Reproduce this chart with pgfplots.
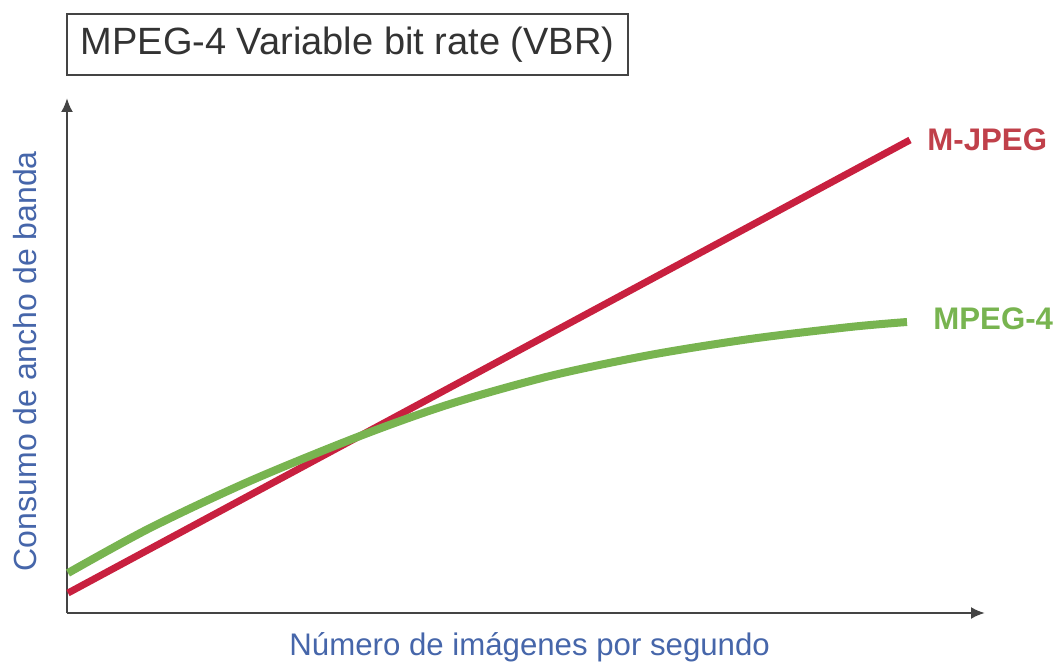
\documentclass[border=0pt]{standalone}
\usepackage{pgfplots}
\pgfplotsset{compat=1.18}
\usepackage{fontspec}
\setmainfont{Liberation Sans}
\usetikzlibrary{arrows.meta}
\definecolor{mjred}{HTML}{C8203F}
\definecolor{mjlab}{HTML}{C0404A}
\definecolor{mpgreen}{HTML}{78B450}
\definecolor{lblue}{HTML}{4666AA}
\definecolor{axgray}{HTML}{444444}
\begin{document}
\begin{tikzpicture}
\begin{axis}[
  scale only axis,
  width=459pt, height=257.5pt,
  xmin=0, xmax=918, ymin=0, ymax=515,
  axis lines=left,
  axis line style={draw=axgray, line width=1.2pt, -{Latex[length=7pt,width=6pt]}},
  xtick=\empty, ytick=\empty,
  clip=false,
  xlabel={Número de imágenes por segundo},
  ylabel={Consumo de ancho de banda},
  xlabel style={at={(rel axis cs:0.504,-0.066)}, anchor=center, font=\fontsize{15.6}{18}\selectfont, text=lblue},
  ylabel style={at={(rel axis cs:-0.0458,0.489)}, anchor=center, font=\fontsize{16}{18}\selectfont, text=lblue},
]
\addplot[mjred, line width=3.5pt, line cap=butt] coordinates {(1,20) (843,473)};
\addplot[mpgreen, line width=4pt, smooth, line cap=butt] coordinates {
(1,40) (83,85) (183,132) (293,177) (383,209) (483,237) (583,258) (683,274) (783,286) (840,291)};
\node[anchor=west, text=mjlab, font=\fontsize{15.6}{18}\selectfont\bfseries, inner sep=0] at (axis cs:860,473) {M-JPEG};
\node[anchor=west, text=mpgreen, font=\fontsize{15.6}{18}\selectfont\bfseries, inner sep=0] at (axis cs:866,294) {MPEG-4};
\node[draw=axgray, line width=1pt, minimum width=280.5pt, minimum height=30.5pt, inner sep=0, font=\fontsize{19}{22}\selectfont, text=black!80] at (axis cs:280.5,568.5) {MPEG-4 Variable bit rate (VBR)};
\path (axis cs:-67,-51) rectangle (axis cs:991,613);
\end{axis}
\end{tikzpicture}
\end{document}
